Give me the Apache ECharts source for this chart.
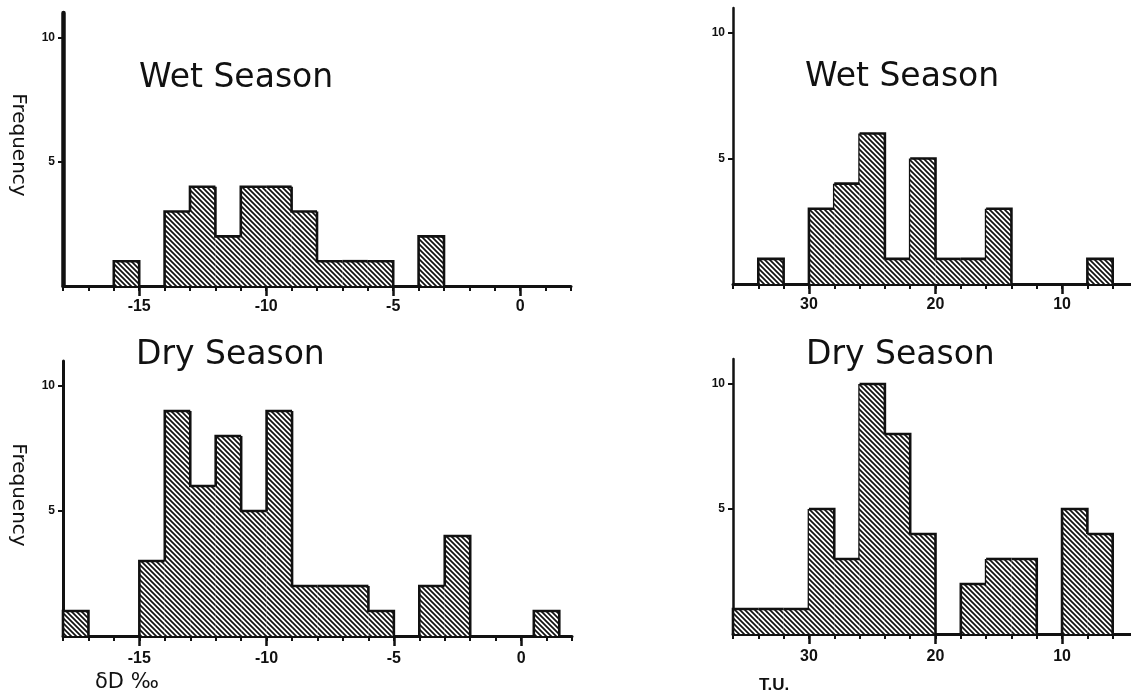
<!DOCTYPE html>
<html>
<head>
<meta charset="utf-8">
<script src="https://cdn.jsdelivr.net/npm/echarts@6/dist/echarts.min.js"></script>
<style>html,body{margin:0;background:#fff;overflow:hidden}#chart{width:1140px;height:694px}</style>
</head>
<body>
<div id="chart"></div>
<script>
// deltaD (per mil), one-unit bins
const wetD_low = [-16, -14, -13, -12, -11, -10, -9, -8, -7, -6, -4];
const wetD_high = [-15, -13, -12, -11, -10, -9, -8, -7, -6, -5, -3];
const wetD_count = [1, 3, 4, 2, 4, 4, 3, 1, 1, 1, 2];

const dryD_low = [-18, -15, -14, -13, -12, -11, -10, -9, -8, -7, -6, -4, -3, 0.5];
const dryD_high = [-17, -14, -13, -12, -11, -10, -9, -8, -7, -6, -5, -3, -2, 1.5];
const dryD_count = [1, 3, 9, 6, 8, 5, 9, 2, 2, 2, 1, 2, 4, 1];

// tritium (T.U.), two-unit bins
const wetT_low = [32, 28, 26, 24, 22, 20, 18, 16, 14, 6];
const wetT_high = [34, 30, 28, 26, 24, 22, 20, 18, 16, 8];
const wetT_count = [1, 3, 4, 6, 1, 5, 1, 1, 3, 1];

const dryT_low = [34, 32, 30, 28, 26, 24, 22, 20, 16, 14, 12, 8, 6];
const dryT_high = [36, 34, 32, 30, 28, 26, 24, 22, 18, 16, 14, 10, 8];
const dryT_count = [1, 1, 1, 5, 3, 10, 8, 4, 2, 3, 3, 5, 4];

const dTicks = [-15, -10, -5, 0];
const tTicks = [30, 20, 10];
const freqTicks = [5, 10];

const ink = '#111';

// diagonal hatching for the bars
function hatch() {
    var c = document.createElement('canvas');
    c.width = 5; c.height = 5;
    var g = c.getContext('2d');
    g.fillStyle = '#fff';
    g.fillRect(0, 0, 5, 5);
    g.strokeStyle = ink;
    g.lineWidth = 1.7;
    g.beginPath();
    g.moveTo(-1, -1); g.lineTo(6, 6);
    g.moveTo(-6, -1); g.lineTo(1, 6);
    g.moveTo(4, -1); g.lineTo(11, 6);
    g.stroke();
    return c;
}
var pattern = { image: hatch(), repeat: 'repeat' };

// each bin: [low, high, count, count of bin sharing the low edge, has bin on the high edge]
function bins(low, high, count) {
    return low.map(function (lo, i) {
        var j = high.indexOf(lo);
        var k = low.indexOf(high[i]);
        return [lo, high[i], count[i], j >= 0 ? count[j] : 0, k >= 0 ? 1 : 0];
    });
}

function renderBin(params, api) {
    var a = api.coord([api.value(0), 0]);
    var b = api.coord([api.value(1), api.value(2)]);
    var n = api.coord([api.value(0), api.value(3)]);
    var pts = [[a[0], n[1]], [a[0], b[1]], [b[0], b[1]]];
    if (!api.value(4)) pts.push([b[0], a[1]]);
    return {
        type: 'group',
        children: [
            { type: 'rect',
              shape: { x: Math.min(a[0], b[0]), y: b[1], width: Math.abs(b[0] - a[0]), height: a[1] - b[1] },
              style: { fill: pattern } },
            { type: 'polyline', shape: { points: pts },
              style: { fill: null, stroke: ink, lineWidth: 2.6 } }
        ]
    };
}

function xMinor(g, min, max, step, inverse) {
    return {
        type: 'value', gridIndex: g, min: min, max: max, interval: step, inverse: inverse, position: 'bottom',
        axisLine: { onZero: false, lineStyle: { color: ink, width: 3 } },
        axisTick: { show: true, length: 5, lineStyle: { color: ink, width: 2 } },
        axisLabel: { show: false },
        splitLine: { show: false }
    };
}
function xMajor(g, min, max, ticks, inverse, margin) {
    return {
        type: 'value', gridIndex: g, min: min, max: max, inverse: inverse, position: 'bottom',
        axisLine: { show: false, onZero: false },
        axisTick: { show: true, length: 10, customValues: ticks, lineStyle: { color: ink, width: 2.5 } },
        axisLabel: { customValues: ticks, margin: margin, color: ink, fontFamily: 'Liberation Sans',
                     fontWeight: 'bold', fontSize: 16 },
        splitLine: { show: false }
    };
}
function yAx(g, lw) {
    return {
        type: 'value', gridIndex: g, min: 0, max: 11, position: 'left',
        axisLine: { show: true, onZero: false, lineStyle: { color: ink, width: lw } },
        axisTick: { show: true, length: 5, customValues: freqTicks, lineStyle: { color: ink, width: 2 } },
        axisLabel: { customValues: freqTicks, margin: 8, color: ink, fontFamily: 'Liberation Sans',
                     fontWeight: 'bold', fontSize: 12 },
        splitLine: { show: false }
    };
}

function label(text, x, y, size, extra) {
    var el = { type: 'text', x: x, y: y, z: 10,
        style: { text: text, fill: ink, font: size + 'px "DejaVu Sans"', textAlign: 'left', textVerticalAlign: 'middle' } };
    return Object.assign(el, extra || {});
}

var chart = echarts.init(document.getElementById('chart'));
var option = {
    animation: false,
    backgroundColor: '#fff',
    grid: [
        { left: 63, top: 13, width: 508, height: 273 },
        { left: 63, top: 361, width: 509, height: 275 },
        { left: 733, top: 8, width: 405, height: 276 },
        { left: 733, top: 359, width: 405, height: 275 }
    ],
    xAxis: [
        xMinor(0, -18, 2, 1, false), xMajor(0, -18, 2, dTicks, false, 13),
        xMinor(1, -18, 2, 1, false), xMajor(1, -18, 2, dTicks, false, 15),
        xMinor(2, 4, 36, 2, true), xMajor(2, 4, 36, tTicks, true, 13),
        xMinor(3, 4, 36, 2, true), xMajor(3, 4, 36, tTicks, true, 15)
    ],
    yAxis: [yAx(0, 4.5), yAx(1, 3), yAx(2, 2.5), yAx(3, 2.5)],
    series: [
        { type: 'custom', xAxisIndex: 0, yAxisIndex: 0, renderItem: renderBin, data: bins(wetD_low, wetD_high, wetD_count) },
        { type: 'custom', xAxisIndex: 2, yAxisIndex: 1, renderItem: renderBin, data: bins(dryD_low, dryD_high, dryD_count) },
        { type: 'custom', xAxisIndex: 4, yAxisIndex: 2, renderItem: renderBin, data: bins(wetT_low, wetT_high, wetT_count) },
        { type: 'custom', xAxisIndex: 6, yAxisIndex: 3, renderItem: renderBin, data: bins(dryT_low, dryT_high, dryT_count) }
    ],
    graphic: [
        label('Wet Season', 139, 78, 33),
        label('Dry Season', 136, 355, 33),
        label('Wet Season', 805, 77, 33),
        label('Dry Season', 806, 355, 33),
        { type: 'text', x: 18, y: 145, rotation: -Math.PI / 2,
          style: { text: 'Frequency', fill: ink, font: '20px "DejaVu Sans"', textAlign: 'center', textVerticalAlign: 'middle' } },
        { type: 'text', x: 18, y: 495, rotation: -Math.PI / 2,
          style: { text: 'Frequency', fill: ink, font: '20px "DejaVu Sans"', textAlign: 'center', textVerticalAlign: 'middle' } },
        label('δD ‰', 95, 683, 21),
        { type: 'text', x: 759, y: 685,
          style: { text: 'T.U.', fill: ink, font: 'bold 17px "Liberation Sans"', textAlign: 'left', textVerticalAlign: 'middle' } }
    ]
};
chart.setOption(option);
window.addEventListener('resize', chart.resize);
</script>
</body>
</html>
